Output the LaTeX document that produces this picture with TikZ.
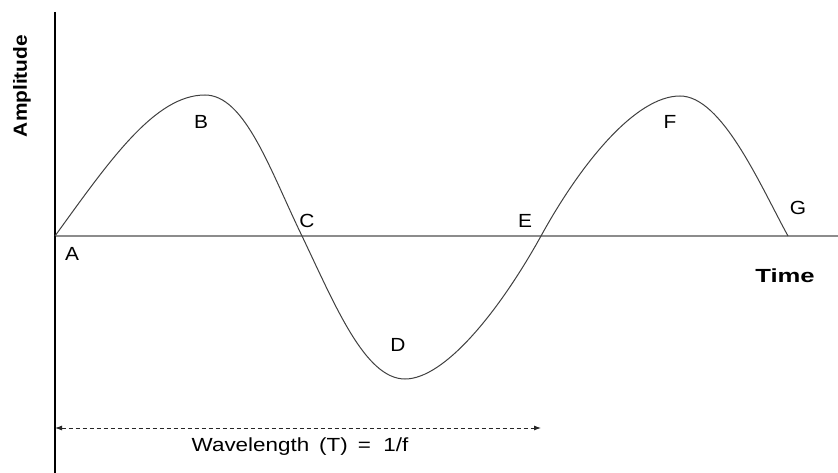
\documentclass[tikz,border=0pt]{standalone}
\usepackage{fontspec}
\setmainfont{Liberation Sans}
\usetikzlibrary{arrows.meta}
\begin{document}
\begin{tikzpicture}[x=1pt,y=-1pt,
  lbl/.style={font=\fontsize{19}{22}\selectfont, inner sep=0pt, xscale=1.1},
  axlbl/.style={font=\fontsize{19}{22}\selectfont\bfseries, inner sep=0pt},
  wave/.style={draw=black!75, line width=1pt},
  vaxis/.style={draw=black, line width=1.2pt},
  haxis/.style={draw=black!45, line width=1.5pt},
  dimarrow/.style={draw=black!85, line width=0.9pt, dash pattern=on 4pt off 3pt,
     {Latex[length=7pt,width=5pt]}-{Latex[length=7pt,width=5pt]}}]
\useasboundingbox (0,0) rectangle (838,473);
% axes
\coordinate (vtop) at (55,12);
\coordinate (vbot) at (55,473);
\coordinate (hl) at (55,236);
\coordinate (hr) at (838,236);
\draw[haxis] (hl) -- (hr);
\draw[vaxis] (vtop) -- (vbot);
% wave points
\coordinate (pA) at (55,236);
\coordinate (pB) at (205,95);
\coordinate (pC) at (302,236);
\coordinate (pD) at (405,379);
\coordinate (pE) at (541,236);
\coordinate (pF) at (680,96);
\coordinate (pG) at (788,236);
\draw[wave] (pA) .. controls (110,160) and (155,95) .. (pB)
  .. controls (245,95) and (270,170) .. (pC)
  .. controls (335,305) and (365,379) .. (pD)
  .. controls (445,379) and (500,310) .. (pE)
  .. controls (580,165) and (635,96) .. (pF)
  .. controls (722,96) and (760,185) .. (pG);
% labels
\node[lbl] (A) at (72,254) {A};
\node[lbl] (B) at (201,122) {B};
\node[lbl] (C) at (307,221) {C};
\node[lbl] (D) at (398,345) {D};
\node[lbl] (E) at (525,221) {E};
\node[lbl] (F) at (670,122) {F};
\node[lbl] (G) at (798,208) {G};
\node[axlbl, rotate=90, xscale=1.1] (amp) at (22,86) {Amplitude};
\node[axlbl, xscale=1.35] (time) at (785,276) {Time};
% wavelength
\coordinate (wl) at (55,428);
\coordinate (wr) at (541,428);
\draw[dimarrow] (wl) -- (wr);
\node[lbl, xscale=1.18/1.1] (wlab) at (300,447) {Wavelength\, (T) \,=\ \ 1/f};
\end{tikzpicture}
\end{document}
